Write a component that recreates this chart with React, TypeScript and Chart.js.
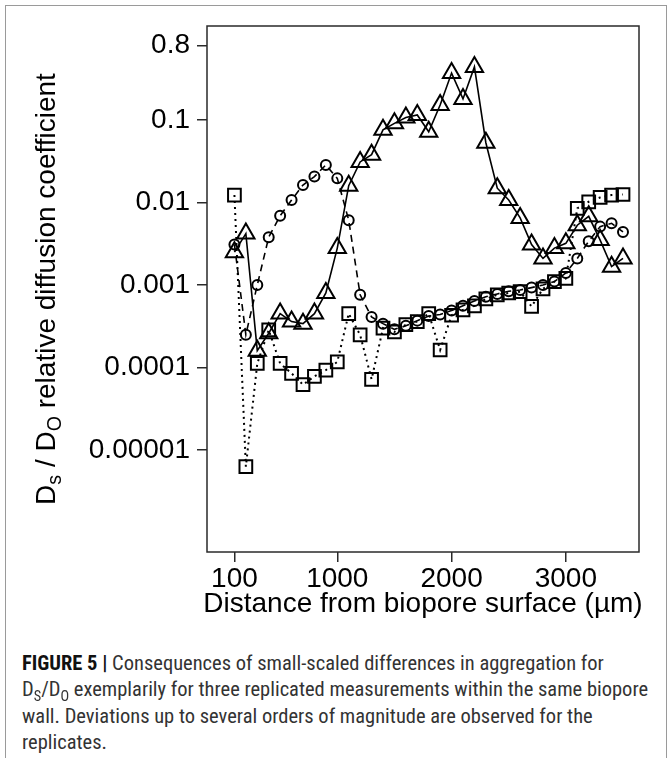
import React, { useEffect, useRef } from "react";
import { Chart, registerables } from "chart.js";

Chart.register(...registerables);

// Distance from biopore surface (µm)
const distances = [
  100, 200, 300, 400, 500, 600, 700, 800, 900, 1000,
  1100, 1200, 1300, 1400, 1500, 1600, 1700, 1800, 1900, 2000,
  2100, 2200, 2300, 2400, 2500, 2600, 2700, 2800, 2900, 3000,
  3100, 3200, 3300, 3400, 3500,
];

// Replicate 1 (triangles, solid line)
const replicateTriangles = [
  0.0025, 0.0042, 0.00016, 0.00026, 0.00045, 0.00036, 0.00034, 0.00045, 0.0008, 0.0028,
  0.016, 0.031, 0.038, 0.076, 0.091, 0.107, 0.115, 0.072, 0.152, 0.37,
  0.18, 0.44, 0.053, 0.0149, 0.0107, 0.0065, 0.0031, 0.0021, 0.0028, 0.0032,
  0.0053, 0.0068, 0.0035, 0.00167, 0.0021,
];

// Replicate 2 (circles, dashed line)
const replicateCircles = [
  0.0031, 0.00025, 0.001, 0.0038, 0.0069, 0.0107, 0.0163, 0.0206, 0.0285, 0.0196,
  0.0061, 0.00076, 0.00041, 0.00034, 0.00029, 0.00032, 0.00037, 0.00042, 0.00044, 0.00049,
  0.00056, 0.00064, 0.00072, 0.00078, 0.00084, 0.00087, 0.00093, 0.001, 0.0011, 0.0014,
  0.0021, 0.0034, 0.0051, 0.0056, 0.0044,
];

// Replicate 3 (squares, dotted line)
const replicateSquares = [
  0.0123, 0.0000063, 0.000112, 0.000285, 0.000112, 0.000085, 0.000062, 0.000078, 0.000093, 0.000117,
  0.00045, 0.000248, 0.000072, 0.0003, 0.00027, 0.00033, 0.00036, 0.00045, 0.000163, 0.00043,
  0.0005, 0.00056, 0.00068, 0.00076, 0.0008, 0.00083, 0.00055, 0.0009, 0.0011, 0.0012,
  0.0085, 0.0102, 0.0115, 0.0123, 0.0125,
];

const yTickValues = [0.00001, 0.0001, 0.001, 0.01, 0.1, 0.8];
const yTickLabels = ["0.00001", "0.0001", "0.001", "0.01", "0.1", "0.8"];
const xTickValues = [100, 1000, 2000, 3000];
const xTickLabels = ["100", "1000", "2000", "3000"];

const X_MIN = -140;
const X_MAX = 3640;
const Y_MIN = 5.81e-7;
const Y_MAX = 1.377;

const AXIS_FONT = "'Liberation Sans', Arial, sans-serif";
const CAPTION_FONT = "'Liberation Sans Narrow', 'Roboto Condensed', 'Liberation Sans', sans-serif";

const toPoints = (vals: number[]) => distances.map((d, i) => ({ x: d, y: vals[i] }));

const boxPlugin = {
  id: "plotBox",
  afterDraw(chart: any) {
    const { ctx, chartArea } = chart;
    ctx.save();
    ctx.strokeStyle = "#2a2a2a";
    ctx.lineWidth = 1.5;
    ctx.strokeRect(chartArea.left, chartArea.top, chartArea.right - chartArea.left, chartArea.bottom - chartArea.top);
    ctx.restore();
  },
};

const subStyle: React.CSSProperties = {
  fontSize: "0.7em",
  lineHeight: 0,
  verticalAlign: "baseline",
  position: "relative",
  top: "0.3em",
};

export default function App() {
  const canvasRef = useRef<HTMLCanvasElement | null>(null);

  useEffect(() => {
    if (!canvasRef.current) return;
    const common = {
      borderColor: "#000",
      pointBorderColor: "#000",
      pointBackgroundColor: "rgba(0,0,0,0)",
      backgroundColor: "rgba(0,0,0,0)",
      pointBorderWidth: 2,
      showLine: true,
      fill: false,
      tension: 0,
    };
    const chart = new Chart(canvasRef.current, {
      type: "line",
      data: {
        datasets: [
          {
            ...common,
            label: "Replicate 3",
            data: toPoints(replicateSquares),
            pointStyle: "rect",
            pointRadius: 9,
            borderWidth: 2,
            borderDash: [2, 4],
          },
          {
            ...common,
            label: "Replicate 2",
            data: toPoints(replicateCircles),
            pointStyle: "circle",
            pointRadius: 5,
            borderWidth: 1.6,
            borderDash: [7, 5],
          },
          {
            ...common,
            label: "Replicate 1",
            data: toPoints(replicateTriangles),
            pointStyle: "triangle",
            pointRadius: 10,
            borderWidth: 1.6,
          },
        ] as any,
      },
      options: {
        animation: false,
        responsive: false,
        maintainAspectRatio: false,
        layout: { padding: { left: 0, top: 26, right: 30, bottom: 0 } },
        plugins: {
          legend: { display: false },
          tooltip: { enabled: false },
        },
        scales: {
          x: {
            type: "linear",
            min: X_MIN,
            max: X_MAX,
            afterBuildTicks: (axis: any) => {
              axis.ticks = xTickValues.map((v) => ({ value: v }));
            },
            afterFit: (axis: any) => {
              axis.height = 88;
            },
            ticks: {
              autoSkip: false,
              maxRotation: 0,
              padding: 0,
              color: "#000",
              font: { family: AXIS_FONT, size: 28 },
              callback: (value: any) => {
                const i = xTickValues.indexOf(Number(value));
                return i >= 0 ? xTickLabels[i] : "";
              },
            },
            grid: {
              display: true,
              drawOnChartArea: false,
              drawTicks: true,
              tickLength: 10,
              color: "#2a2a2a",
              lineWidth: 1.5,
            },
            border: { display: false },
          },
          y: {
            type: "logarithmic",
            min: Y_MIN,
            max: Y_MAX,
            afterBuildTicks: (axis: any) => {
              axis.ticks = yTickValues.map((v) => ({ value: v }));
            },
            afterFit: (axis: any) => {
              axis.width = 207;
            },
            ticks: {
              autoSkip: false,
              padding: 7,
              color: "#000",
              font: { family: AXIS_FONT, size: 28 },
              callback: (value: any) => {
                const v = Number(value);
                const i = yTickValues.findIndex((t) => Math.abs(t - v) / t < 1e-6);
                return i >= 0 ? yTickLabels[i] : "";
              },
            },
            grid: {
              display: true,
              drawOnChartArea: false,
              drawTicks: true,
              tickLength: 10,
              color: "#2a2a2a",
              lineWidth: 1.5,
            },
            border: { display: false },
          },
        },
      } as any,
      plugins: [boxPlugin],
    });
    return () => chart.destroy();
  }, []);

  return (
    <div
      style={{
        position: "fixed",
        left: 0,
        top: 0,
        width: 669,
        height: 758,
        background: "#fff",
        overflow: "hidden",
      }}
    >
      <div
        style={{
          position: "absolute",
          left: 5,
          top: 5,
          width: 662,
          height: 800,
          border: "1px solid #9a9a9a",
          borderBottom: "none",
          boxSizing: "border-box",
        }}
      />
      <canvas
        ref={canvasRef}
        width={669}
        height={640}
        style={{ position: "absolute", left: 0, top: 0, width: 669, height: 640 }}
      />
      {/* y axis title */}
      <div
        style={{
          position: "absolute",
          left: 46 - 300,
          top: 289 - 18,
          width: 600,
          height: 36,
          lineHeight: "36px",
          transform: "rotate(-90deg)",
          textAlign: "center",
          fontFamily: AXIS_FONT,
          fontSize: 28,
          color: "#000",
          whiteSpace: "nowrap",
        }}
      >
        D<span style={subStyle}>s</span> / D<span style={subStyle}>O</span> relative diffusion coefficient
      </div>
      {/* x axis title */}
      <div
        style={{
          position: "absolute",
          left: 173,
          top: 603 - 18,
          width: 500,
          height: 36,
          lineHeight: "36px",
          textAlign: "center",
          fontFamily: AXIS_FONT,
          fontSize: 28,
          color: "#000",
          whiteSpace: "nowrap",
        }}
      >
        Distance from biopore surface (µm)
      </div>
      {/* caption */}
      <div
        style={{
          position: "absolute",
          left: 22,
          top: 650,
          fontFamily: CAPTION_FONT,
          fontSize: 20.5,
          lineHeight: "26.3px",
          color: "#333",
          whiteSpace: "nowrap",
        }}
      >
        <b style={{ color: "#111" }}>FIGURE 5 |</b> Consequences of small-scaled differences in aggregation for
        <br />
        D<span style={subStyle}>S</span>/D<span style={subStyle}>O</span> exemplarily for three replicated measurements within the same biopore
        <br />
        wall. Deviations up to several orders of magnitude are observed for the
        <br />
        replicates.
      </div>
    </div>
  );
}
